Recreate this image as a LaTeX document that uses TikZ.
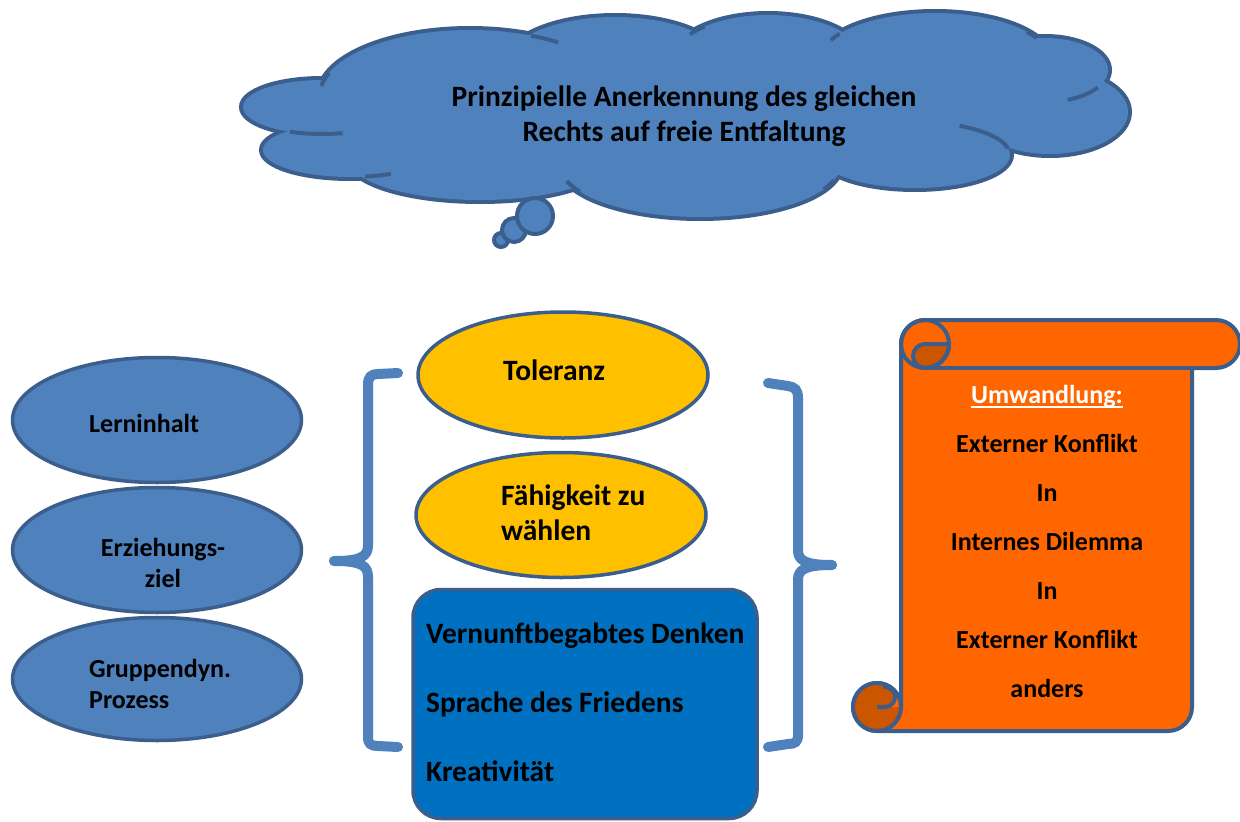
\documentclass[tikz,border=0pt]{standalone}
\usepackage{fontspec}
\setmainfont{Carlito}
\usetikzlibrary{shapes.geometric}
\definecolor{puff}{HTML}{4F81BD}
\definecolor{rim}{HTML}{3B5E8C}
\definecolor{gold}{HTML}{FFC000}
\definecolor{ocean}{HTML}{0070C0}
\definecolor{flame}{HTML}{FF6600}
\definecolor{ember}{HTML}{CC5500}
\newcommand{\ulword}[1]{\setbox0\hbox{#1}\rlap{\rule[-5pt]{\wd0}{2pt}}\box0}
\tikzset{
  oval/.style={ellipse, draw=rim, line width=3.5pt, minimum width=289pt, minimum height=125pt, inner sep=0pt},
  smalltxt/.style={font=\bfseries\fontsize{26}{31}\selectfont, inner sep=0pt},
  bigtxt/.style={font=\bfseries\fontsize{29.5}{35}\selectfont, inner sep=0pt},
  bracket/.style={draw=puff, line width=10pt, line cap=round},
  stub/.style={draw=rim, line width=4pt}
}
\begin{document}
\begin{tikzpicture}[x=1pt,y=-1pt]
\useasboundingbox (0,0) rectangle (1240,822);
\foreach \cx/\cy/\rx/\ry in {470/95/150/65, 615/65/110/48, 768/60/95/45, 935/60/115/47, 1045/70/63/32, 1050/112/78/42, 915/155/95/33, 700/165/140/52, 480/160/130/40, 350/150/87/27, 322/107/79/27}
  \draw[rim, line width=8pt] (\cx,\cy) ellipse [x radius=\rx, y radius=\ry];
\foreach \cx/\cy/\rx/\ry in {470/95/150/65, 615/65/110/48, 768/60/95/45, 935/60/115/47, 1045/70/63/32, 1050/112/78/42, 915/155/95/33, 700/165/140/52, 480/160/130/40, 350/150/87/27, 322/107/79/27, 690/120/320/62}
  \fill[puff] (\cx,\cy) ellipse [x radius=\rx, y radius=\ry];
\foreach \cx/\cy/\rx/\ry/\a/\b in {470/95/150/65/200/188, 322/107/79/27/114/75, 350/150/87/27/80/62, 700/165/140/52/162/149, 700/165/140/52/28/17, 915/155/95/33/-62/-12, 1045/70/63/32/33/69, 935/60/115/47/-37/-28, 768/60/95/45/228/215, 470/95/150/65/-66/-54, 935/60/115/47/214/205}
  \draw[stub] (\cx,\cy) ++(\a:{\rx} and {\ry}) arc[start angle=\a, end angle=\b, x radius=\rx, y radius=\ry];
\foreach \bx/\by/\br in {501/240/7, 514/230/12, 535/216/18}
  \filldraw[stub, fill=puff] (\bx,\by) circle (\br);
\node[bigtxt, align=center] (wolke) at (684,116) {Prinzipielle Anerkennung des gleichen\\Rechts auf freie Entfaltung};

\node[oval, fill=puff] (lern) at (157,420) {};
\node[oval, fill=puff] (erz) at (157,550) {};
\node[oval, fill=puff, minimum height=123pt] (grp) at (157,679) {};
\node[smalltxt, anchor=west] (lern-t) at (89,423) {Lerninhalt};
\node[smalltxt, align=center] (erz-t) at (163,563) {Erziehungs-\\ziel};
\node[smalltxt, align=left, anchor=west] (grp-t) at (89,684) {Gruppendyn.\\Prozess};

\node[oval, fill=gold, minimum width=290pt, minimum height=126pt] (tol) at (563,375) {};
\node[oval, fill=gold, minimum width=290pt] (wahl) at (561,515) {};
\node[bigtxt, anchor=west] (tol-t) at (503,370) {Toleranz};
\node[bigtxt, align=left, anchor=west] (wahl-t) at (501,513) {Fähigkeit zu\\wählen};

\node[draw=rim, fill=ocean, line width=3.5pt, rounded corners=28pt, minimum width=344pt, minimum height=229pt] (kern) at (585,704) {};
\node[bigtxt, font=\bfseries\fontsize{29.5}{69}\selectfont, align=left, anchor=west] (kern-t) at (426,702) {Vernunftbegabtes Denken\\Sprache des Friedens\\Kreativität};

\draw[bracket] (398,373) -- (378,374) .. controls (371,374) and (368,377) .. (368,385) -- (368,545) .. controls (368,556) and (362,561) .. (334,561);
\draw[bracket] (334,561) .. controls (362,561) and (368,566) .. (368,577) -- (368,737) .. controls (368,744) and (371,746) .. (378,746) -- (398,747);
\draw[bracket] (768,383) -- (788,386) .. controls (795,387) and (798,390) .. (798,398) -- (798,550) .. controls (798,560) and (804,565) .. (832,565);
\draw[bracket] (832,565) .. controls (804,565) and (798,570) .. (798,580) -- (798,735) .. controls (798,742) and (795,744) .. (788,744) -- (768,747);

\filldraw[stub, fill=flame, line join=round] (925,320) -- (1216,320) arc[start angle=-90, end angle=90, radius=24] -- (1192,368) -- (1192,707) arc[start angle=0, end angle=90, radius=24] -- (877,731) arc[start angle=90, end angle=360, radius=24] -- (901,344) arc[start angle=180, end angle=270, radius=24] -- cycle;
\draw[stub] (925,368) -- (1192,368);
\filldraw[stub, fill=ember] (949,344) -- (925,344) arc[start angle=-90, end angle=-270, radius=12] arc[start angle=90, end angle=0, radius=24] -- cycle;
\draw[stub] (925,344) circle (24);
\fill[ember] (877,707) circle (24);
\fill[flame] (885,707) arc[start angle=90, end angle=-90, radius=10] -- (885,684.4) arc[start angle=-70.5, end angle=0, radius=24] -- cycle;
\draw[stub] (877,707) -- (885,707) arc[start angle=90, end angle=-90, radius=10] -- (885,684.4);
\draw[stub] (877,707) circle (24);
\node[smalltxt, font=\bfseries\fontsize{26}{49}\selectfont, align=center] (umw) at (1047,541) {{\color{white}\ulword{Umwandlung:}}\\Externer Konflikt\\In\\Internes Dilemma\\In\\Externer Konflikt\\anders};
\end{tikzpicture}
\end{document}
